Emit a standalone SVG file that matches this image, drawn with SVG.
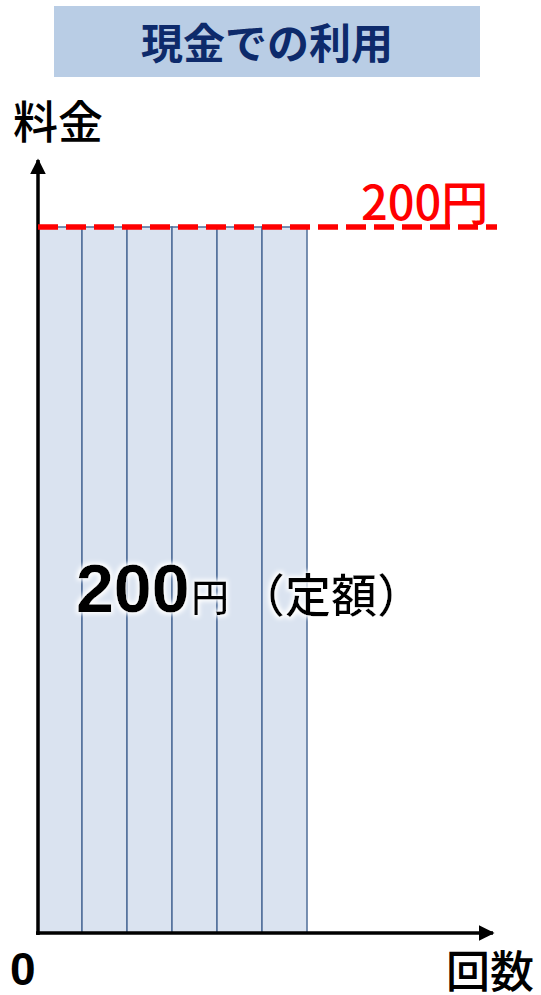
<svg xmlns="http://www.w3.org/2000/svg" width="541" height="995" viewBox="0 0 541 995">
<style>
.jp{font-family:"Noto Sans CJK JP","Noto Sans",sans-serif;}
.bar{fill:#DAE3F0;stroke:#4F6E99;stroke-width:1.5;}
.axis{stroke:#000;stroke-width:3.5;fill:none;}
</style>
<defs>
<marker id="ah" viewBox="0 0 10 10" refX="9" refY="5" markerWidth="4.5" markerHeight="4.5" orient="auto" markerUnits="strokeWidth">
<path d="M0,0 L10,5 L0,10 z" fill="#000"/>
</marker>
<filter id="glow" x="-10%" y="-20%" width="120%" height="140%">
<feMorphology in="SourceAlpha" operator="dilate" radius="2" result="d"/>
<feGaussianBlur in="d" stdDeviation="2" result="b"/>
<feFlood flood-color="#fff"/>
<feComposite in2="b" operator="in" result="g"/>
<feMerge><feMergeNode in="g"/><feMergeNode in="SourceGraphic"/></feMerge>
</filter>
</defs>
<rect width="541" height="995" fill="#fff"/>
<g id="title">
<rect x="54" y="6" width="426" height="71" fill="#B9CDE5"/>
<text x="267" y="59" class="jp" font-size="42" font-weight="bold" fill="#0D2A6B" text-anchor="middle">現金での利用</text>
</g>
<g id="bars">
<rect class="bar" x="38" y="227" width="44" height="706"/>
<rect class="bar" x="82" y="227" width="45" height="706"/>
<rect class="bar" x="127" y="227" width="45" height="706"/>
<rect class="bar" x="172" y="227" width="45" height="706"/>
<rect class="bar" x="217" y="227" width="45" height="706"/>
<rect class="bar" x="262" y="227" width="45" height="706"/>
</g>
<g id="connectors">
<line class="axis" x1="38" y1="935" x2="38" y2="160" marker-end="url(#ah)"/>
<line class="axis" x1="36" y1="933" x2="493" y2="933" marker-end="url(#ah)"/>
<line x1="38" y1="227" x2="497" y2="227" stroke="#FF0000" stroke-width="5.5" stroke-dasharray="20 8"/>
</g>
<g id="labels">
<text x="13" y="139" class="jp" font-size="45" font-weight="500" fill="#000">料金</text>
<text x="361" y="220" class="jp" font-size="47" font-weight="500" fill="#FF0000">200円</text>
<text x="10" y="985" font-family="Liberation Sans,Arial,sans-serif" font-size="46" font-weight="bold" fill="#000">0</text>
<text x="446" y="988" class="jp" font-size="44" font-weight="500" fill="#000">回数</text>
<g filter="url(#glow)">
<text x="76" y="612" font-family="Liberation Sans,Arial,sans-serif" font-size="68" font-weight="bold" fill="#000">200</text>
<text x="191" y="611" class="jp" font-size="38" font-weight="500" fill="#000">円</text>
<text x="239" y="612" class="jp" font-size="46" font-weight="500" fill="#000">（定額）</text>
</g>
</g>
</svg>
